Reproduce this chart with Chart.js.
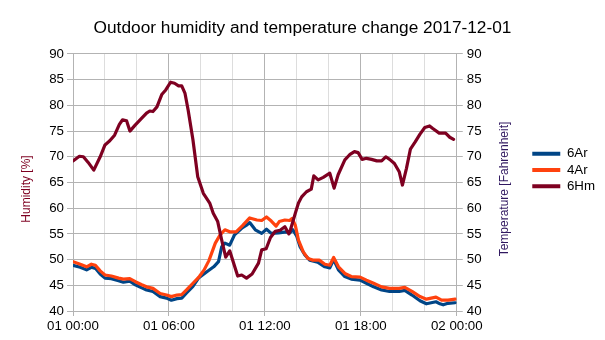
<!DOCTYPE html>
<html>
<head>
<meta charset="utf-8">
<script src="https://cdn.jsdelivr.net/npm/chart.js@4/dist/chart.umd.min.js"></script>
<style>
  html, body { margin: 0; padding: 0; background: #ffffff; }
  #wrap { width: 605px; height: 340px; }
</style>
</head>
<body>
<div id="wrap"><canvas id="c" width="605" height="340"></canvas></div>
<script>
const titleText = 'Outdoor humidity and temperature change 2017-12-01';
const leftAxisTitle = 'Humidity [%]';
const rightAxisTitle = 'Temperature [Fahrenheit]';
const xTickLabels = ['01 00:00', '01 06:00', '01 12:00', '01 18:00', '02 00:00'];
const seriesNames = ['6Ar', '4Ar', '6Hm'];

// hours since 01 00:00
const ar6Hours = [0.0,0.45,0.85,1.15,1.4,1.7,2.0,2.4,2.85,3.15,3.55,3.9,4.3,4.6,5.0,5.45,5.85,6.15,6.5,6.8,7.1,7.5,7.85,8.35,8.8,9.1,9.3,9.5,9.8,10.1,10.55,10.85,11.05,11.4,11.8,12.1,12.4,12.85,13.35,13.55,13.75,14.0,14.2,14.5,14.8,15.3,15.75,16.06,16.3,16.6,17.0,17.4,17.95,18.35,18.8,19.3,19.8,20.4,20.75,21.2,21.7,22.1,22.4,22.7,22.95,23.15,23.45,23.9];
const ar6Values = [48.9,48.5,48.0,48.5,48.3,47.2,46.4,46.3,45.9,45.6,45.8,45.1,44.5,44.1,43.8,42.8,42.5,42.1,42.4,42.5,43.5,44.8,46.4,47.6,48.6,49.6,52.5,53.2,52.8,54.8,56.1,56.7,57.2,55.8,55.1,55.9,55.1,55.2,55.4,55.2,55.8,54.5,52.5,50.9,49.9,49.5,48.6,48.4,50.0,48.0,46.7,46.2,46.0,45.4,44.7,44.1,43.8,43.8,44.0,43.1,42.0,41.4,41.6,41.8,41.4,41.2,41.5,41.6];

const ar4Hours = [0.0,0.45,0.85,1.15,1.4,1.7,2.0,2.4,2.85,3.15,3.55,3.9,4.3,4.6,5.0,5.45,5.85,6.15,6.5,6.8,7.1,7.5,7.9,8.2,8.5,8.9,9.2,9.5,9.8,10.2,10.6,11.05,11.5,11.8,12.1,12.4,12.7,12.9,13.25,13.55,13.7,13.9,14.1,14.4,14.7,15.0,15.4,15.75,16.06,16.3,16.6,17.0,17.4,17.95,18.35,18.8,19.3,19.8,20.4,20.75,21.2,21.7,22.1,22.4,22.7,23.05,23.45,23.9];
const ar4Values = [49.6,49.1,48.6,49.1,48.9,47.8,47.0,46.8,46.4,46.2,46.3,45.7,45.1,44.7,44.4,43.4,43.1,42.8,43.1,43.2,44.1,45.4,46.7,48.0,49.8,53.2,54.8,55.8,55.4,55.4,56.6,58.1,57.7,57.6,58.3,57.5,56.5,57.4,57.7,57.6,58.0,56.7,53.8,51.5,50.2,49.9,49.9,49.1,48.9,50.4,48.6,47.3,46.7,46.6,46.0,45.4,44.7,44.4,44.4,44.6,43.8,42.8,42.3,42.5,42.7,42.1,42.1,42.3];

const hmHours = [0.0,0.4,0.65,0.95,1.3,1.7,2.0,2.3,2.6,2.9,3.1,3.35,3.56,3.87,4.3,4.6,4.8,5.0,5.25,5.55,5.8,6.1,6.35,6.6,6.8,7.0,7.2,7.5,7.8,8.15,8.55,8.77,9.05,9.3,9.55,9.8,10.3,10.55,10.85,11.2,11.6,11.8,12.08,12.35,12.65,12.95,13.25,13.5,13.6,13.9,14.1,14.3,14.6,14.9,15.06,15.33,15.65,16.06,16.33,16.58,17.0,17.3,17.6,17.83,18.08,18.35,18.67,19.0,19.3,19.56,19.8,20.1,20.4,20.6,20.85,21.1,21.4,21.7,22.0,22.3,22.5,22.9,23.3,23.56,23.8];
const hmValues = [69.2,70.1,70.0,68.9,67.4,70.0,72.3,73.1,74.2,76.3,77.2,77.0,75.0,76.1,77.5,78.5,78.9,78.8,79.7,82.1,83.0,84.5,84.3,83.8,83.8,82.4,79.1,73.3,66.1,62.9,61.0,59.0,57.4,53.8,50.5,51.7,46.8,47.0,46.4,47.2,49.3,51.9,52.1,54.3,55.5,55.7,56.4,55.0,55.8,59.0,61.0,62.2,63.2,63.7,66.3,65.5,66.0,66.8,63.9,66.5,69.4,70.4,71.0,70.8,69.5,69.7,69.5,69.2,69.2,70.0,69.5,68.7,67.1,64.5,67.7,71.5,72.9,74.4,75.7,76.0,75.5,74.6,74.6,73.8,73.4];

const colors = ['#004586', '#ff420e', '#7e0021'];
const FONT = "'Liberation Sans', Arial, sans-serif";

function pts(xs, ys) { return xs.map((x, i) => ({ x: x, y: ys[i] })); }

const axisTitlesPlugin = {
  id: 'axisTitles',
  afterDraw(chart) {
    const ctx = chart.ctx;
    const yMid = 189;
    ctx.save();
    ctx.font = '12px ' + FONT;
    ctx.textAlign = 'center';
    ctx.textBaseline = 'middle';
    ctx.translate(27, yMid);
    ctx.rotate(-Math.PI / 2);
    ctx.fillStyle = '#7e0021';
    ctx.fillText(leftAxisTitle, 0, 0);
    ctx.restore();
    ctx.save();
    ctx.font = '12px ' + FONT;
    ctx.textAlign = 'center';
    ctx.textBaseline = 'middle';
    ctx.translate(505, yMid);
    ctx.rotate(-Math.PI / 2);
    ctx.fillStyle = '#301860';
    ctx.fillText(rightAxisTitle, 0, 0);
    ctx.restore();
  }
};

const ds = [
  { label: seriesNames[0], data: pts(ar6Hours, ar6Values), yAxisID: 'y1', color: colors[0], order: 3 },
  { label: seriesNames[1], data: pts(ar4Hours, ar4Values), yAxisID: 'y1', color: colors[1], order: 2 },
  { label: seriesNames[2], data: pts(hmHours, hmValues), yAxisID: 'y', color: colors[2], order: 1 }
].map(d => ({
  label: d.label, data: d.data, yAxisID: d.yAxisID, order: d.order,
  borderColor: d.color, backgroundColor: d.color,
  borderWidth: 3.2, pointRadius: 0, tension: 0,
  borderJoinStyle: 'round', borderCapStyle: 'round'
}));

new Chart(document.getElementById('c'), {
  type: 'line',
  data: { datasets: ds },
  plugins: [axisTitlesPlugin],
  options: {
    responsive: false,
    animation: false,
    devicePixelRatio: 1,
    layout: { padding: { left: 0, right: 0, top: 0, bottom: 0 } },
    plugins: {
      tooltip: { enabled: false },
      title: {
        display: true, text: titleText, color: '#000000',
        font: { family: FONT, size: 17.3, weight: 'normal' },
        padding: { top: 18, bottom: 15.2 }
      },
      legend: {
        position: 'right',
        labels: {
          color: '#000000',
          font: { family: FONT, size: 13.3 },
          boxWidth: 28, boxHeight: 4, padding: 3,
          sort: (a, b) => a.datasetIndex - b.datasetIndex,
          generateLabels: (chart) => Chart.defaults.plugins.legend.labels.generateLabels(chart).map(l => Object.assign(l, { lineWidth: 0 }))
        }
      }
    },
    scales: {
      x: {
        type: 'linear', min: 0, max: 24,
        afterFit: s => { s.height = 29; },
        afterBuildTicks: s => { const t = []; for (let v = 0; v <= 24; v += 2) t.push({ value: v }); s.ticks = t; },
        ticks: {
          autoSkip: false, maxRotation: 0, padding: 2, color: '#000000',
          font: { family: FONT, size: 13.3 },
          callback: v => (v % 6 === 0 ? xTickLabels[v / 6] : '')
        },
        grid: {
          color: c => (c.tick && c.tick.value % 6 === 0 ? '#b3b3b3' : '#dddddd'),
          tickColor: c => (c.tick && c.tick.value % 6 === 0 ? '#b3b3b3' : 'rgba(0,0,0,0)'),
          tickLength: 5, lineWidth: 1
        },
        border: { color: '#b3b3b3' }
      },
      y: {
        position: 'left', min: 40, max: 90,
        afterFit: s => { s.width = 73; },
        ticks: { stepSize: 5, padding: 3, color: '#000000', font: { family: FONT, size: 13.3 } },
        grid: { color: '#b3b3b3', tickLength: 6 },
        border: { color: '#b3b3b3' }
      },
      y1: {
        position: 'right', min: 40, max: 90,
        afterFit: s => { s.width = 72.5; },
        ticks: { stepSize: 5, padding: 4, color: '#000000', font: { family: FONT, size: 13.3 } },
        grid: { drawOnChartArea: false, color: '#b3b3b3', tickLength: 6 },
        border: { color: '#b3b3b3' }
      }
    }
  }
});
</script>
</body>
</html>
